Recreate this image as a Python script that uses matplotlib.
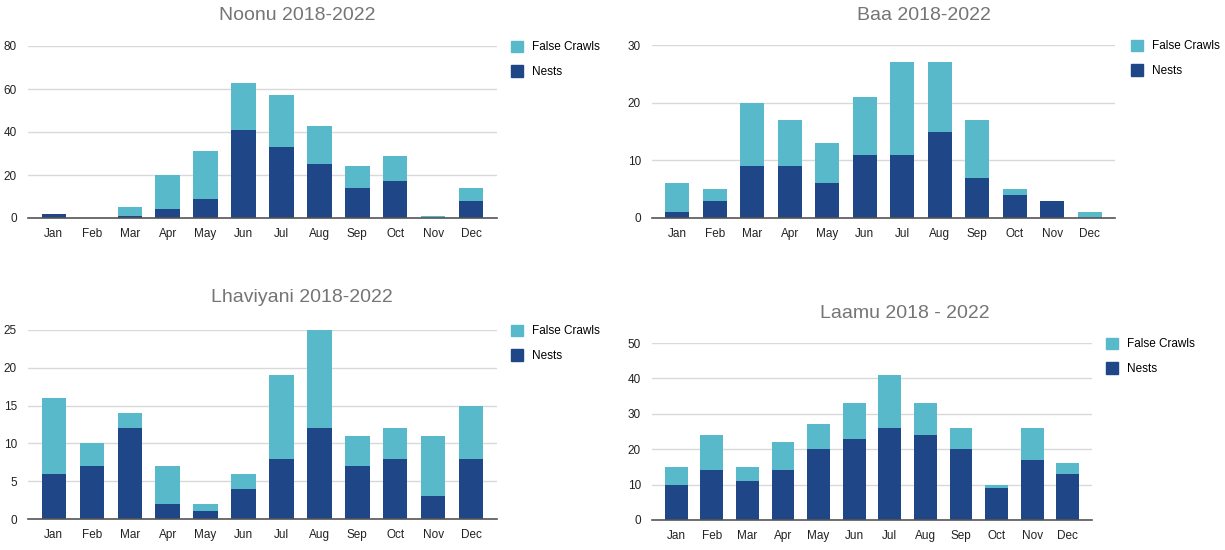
import numpy as np
import matplotlib
matplotlib.use('Agg')
import matplotlib.pyplot as plt
from matplotlib.patches import Patch

months = ['Jan', 'Feb', 'Mar', 'Apr', 'May', 'Jun', 'Jul', 'Aug', 'Sep', 'Oct', 'Nov', 'Dec']

# nests and false crawls per month, 2018-2022
noonu_nests = [2, 0, 1, 4, 9, 41, 33, 25, 14, 17, 0, 8]
noonu_false = [0, 0, 4, 16, 22, 22, 24, 18, 10, 12, 1, 6]

baa_nests = [1, 3, 9, 9, 6, 11, 11, 15, 7, 4, 3, 0]
baa_false = [5, 2, 11, 8, 7, 10, 16, 12, 10, 1, 0, 1]

lhaviyani_nests = [6, 7, 12, 2, 1, 4, 8, 12, 7, 8, 3, 8]
lhaviyani_false = [10, 3, 2, 5, 1, 2, 11, 13, 4, 4, 8, 7]

laamu_nests = [10, 14, 11, 14, 20, 23, 26, 24, 20, 9, 17, 13]
laamu_false = [5, 10, 4, 8, 7, 10, 15, 9, 6, 1, 9, 3]

nest_col = '#1f4687'
false_col = '#58b9cb'

plt.rcParams['font.family'] = ['Liberation Sans', 'DejaVu Sans']

W, H = 1225, 550
fig = plt.figure(figsize=(W / 100, H / 100), dpi=100)

def panel(px, title, nests, false, ymax, ystep, title_xy, leg_x):
    # px = (left, top, right, bottom) in pixels
    l, t, r, b = px
    ax = fig.add_axes([l / W, 1 - b / H, (r - l) / W, (b - t) / H])
    x = np.arange(len(months))
    ax.bar(x, nests, width=0.64, color=nest_col, zorder=3)
    ax.bar(x, false, width=0.64, bottom=nests, color=false_col, zorder=3)
    ax.set_xlim(-0.68, 11.68)
    ax.set_ylim(0, ymax)
    ax.set_yticks(np.arange(0, ymax + 1, ystep))
    ax.set_xticks(x)
    ax.set_xticklabels(months)
    ax.grid(axis='y', color='#d9d9d9', linewidth=1, zorder=0)
    for s in ['top', 'right', 'left']:
        ax.spines[s].set_visible(False)
    ax.spines['bottom'].set_color('#555555')
    ax.spines['bottom'].set_linewidth(1.2)
    ax.spines['bottom'].set_zorder(4)
    ax.tick_params(axis='both', length=0, labelsize=8.5, colors='#222222')
    ax.tick_params(axis='x', pad=7)
    ax.tick_params(axis='y', pad=8)
    fig.text(title_xy[0] / W, 1 - title_xy[1] / H, title, ha='center', va='center',
             fontsize=14, color='#757575')
    handles = [Patch(color=false_col, label='False Crawls'),
               Patch(color=nest_col, label='Nests')]
    fig.legend(handles=handles, loc='upper left',
               bbox_to_anchor=(leg_x / W, 1 - (t - 10) / H),
               frameon=False, fontsize=8.5, handlelength=1.0, handleheight=1.1,
               handletextpad=0.8, labelspacing=1.0, borderaxespad=0)
    return ax

panel((28, 46, 497, 218), 'Noonu 2018-2022', noonu_nests, noonu_false, 80, 20, (297, 16), 506)
panel((652, 45, 1115, 218), 'Baa 2018-2022', baa_nests, baa_false, 30, 10, (924, 16), 1126)
panel((28, 330, 497, 519), 'Lhaviyani 2018-2022', lhaviyani_nests, lhaviyani_false, 25, 5, (302, 298), 506)
panel((652, 343, 1092, 520), 'Laamu 2018 - 2022', laamu_nests, laamu_false, 50, 10, (905, 313), 1101)

fig.savefig('out.png', dpi=100, facecolor='white')
